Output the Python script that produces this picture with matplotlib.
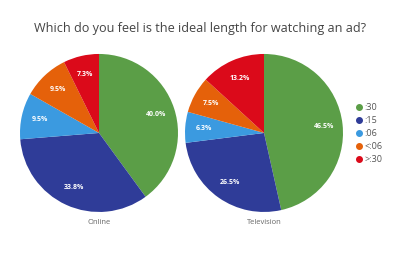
import matplotlib
matplotlib.use("Agg")
import matplotlib.pyplot as plt
from matplotlib.lines import Line2D

categories = [":30", ":15", ":06", "<:06", ">:30"]
online = [40.0, 33.8, 9.5, 9.5, 7.3]
television = [46.5, 26.5, 6.3, 7.5, 13.2]
colors = ["#5b9e47", "#2f3c98", "#3b9ae0", "#e5610a", "#db0a1a"]

plt.rcParams["font.family"] = ["Open Sans", "DejaVu Sans"]

fig = plt.figure(figsize=(4, 2.67), dpi=100)
fig.text(0.5, 0.893, "Which do you feel is the ideal length for watching an ad?",
         ha="center", va="center", fontsize=9.1, color="#444444")

def draw_pie(left, values, name):
    ax = fig.add_axes([left, 0.206, 0.395, 0.592])
    ax.pie(values, colors=colors, startangle=90, counterclock=False,
           autopct="%.1f%%", pctdistance=0.76,
           textprops=dict(color="white", fontsize=5, fontweight="bold"))
    ax.set_xlim(-1, 1)
    ax.set_ylim(-1, 1)
    ax.set_aspect("equal")
    ax.axis("off")
    ax.text(0, -1.13, name, ha="center", va="center", fontsize=5.5, color="#666666")

draw_pie(0.05, online, "Online")
draw_pie(0.4625, television, "Television")

handles = [Line2D([0], [0], marker="o", linestyle="", markersize=4,
                  markerfacecolor=c, markeredgecolor=c) for c in colors]
fig.legend(handles, categories, loc="center left", bbox_to_anchor=(0.865, 0.5),
           frameon=False, fontsize=6.5, labelcolor="#555555",
           handletextpad=0.1, labelspacing=0.45, handlelength=1.0)

plt.savefig("out.png", dpi=100)
